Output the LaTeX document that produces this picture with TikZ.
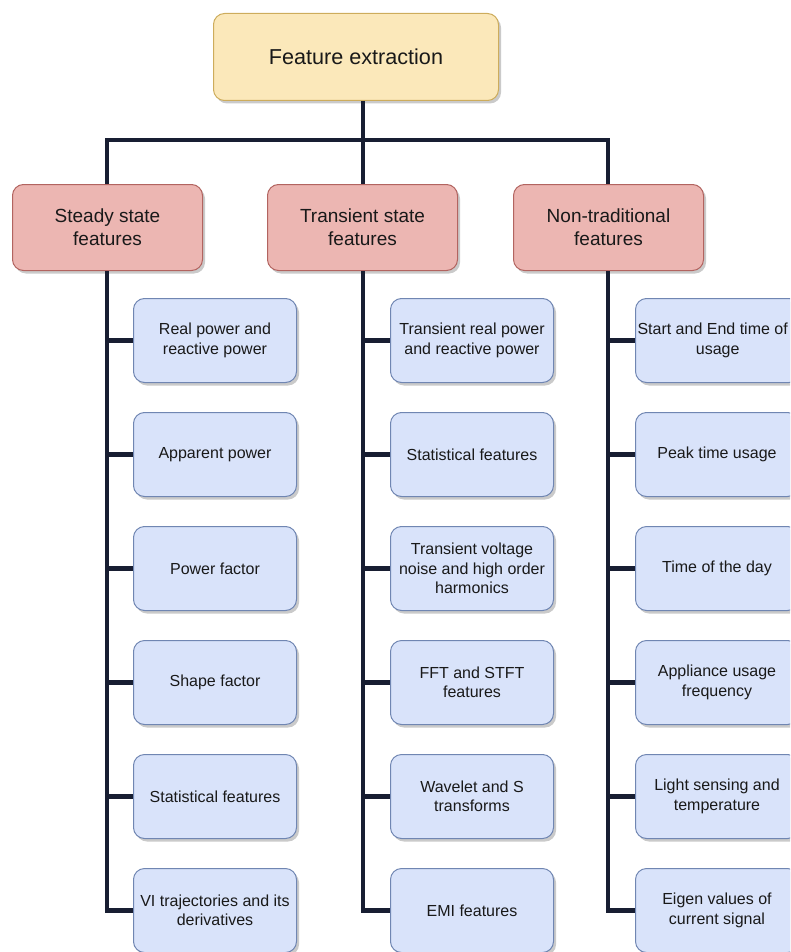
\documentclass[tikz,border=0pt]{standalone}
\usepackage{fontspec}
\setmainfont{Liberation Sans}
\usetikzlibrary{shadows}

\definecolor{rootfill}{RGB}{251,232,186}
\definecolor{rootline}{RGB}{205,172,92}
\definecolor{catfill}{RGB}{236,182,178}
\definecolor{catline}{RGB}{178,100,96}
\definecolor{itemfill}{RGB}{217,227,250}
\definecolor{itemline}{RGB}{112,134,178}
\definecolor{wirecol}{RGB}{24,30,50}
\definecolor{txt}{RGB}{25,25,25}

\tikzset{
  boxbase/.style={draw, line width=1pt, rounded corners=11pt, align=center,
    inner sep=2pt, text=txt, anchor=north west,
    drop shadow={shadow xshift=2.5pt, shadow yshift=-3pt, opacity=0.35, fill=black!60}},
  rootbox/.style={boxbase, fill=rootfill, draw=rootline,
    minimum width=285pt, minimum height=87pt,
    font=\fontsize{21.6}{26}\selectfont},
  catbox/.style={boxbase, fill=catfill, draw=catline,
    minimum width=190pt, minimum height=86pt,
    font=\fontsize{19}{23}\selectfont},
  itembox/.style={boxbase, fill=itemfill, draw=itemline,
    minimum width=163pt, minimum height=84pt,
    font=\fontsize{16}{19.5}\selectfont},
  wire/.style={draw=wirecol, line width=4.5pt}
}

\begin{document}
\begin{tikzpicture}[x=1pt, y=-1pt]
\useasboundingbox (0,0) rectangle (790,952);
\clip (0,0) rectangle (790,952);

% root and the three feature families
\node[rootbox] (root) at (213,13) {Feature extraction};
\node[catbox] (c1) at (12,184) {Steady state\\features};
\node[catbox] (c2) at (267,184) {Transient state\\features};
\node[catbox] (c3) at (513,184) {Non-traditional\\features};

% steady state features
\node[itembox] (s1) at (133,298) {Real power and\\reactive power};
\node[itembox] (s2) at (133,412) {Apparent power};
\node[itembox] (s3) at (133,526) {Power factor};
\node[itembox] (s4) at (133,640) {Shape factor};
\node[itembox] (s5) at (133,754) {Statistical features};
\node[itembox] (s6) at (133,868) {VI trajectories and its\\derivatives};

% transient state features
\node[itembox] (t1) at (390,298) {Transient real power\\and reactive power};
\node[itembox] (t2) at (390,412) {Statistical features};
\node[itembox] (t3) at (390,526) {Transient voltage\\noise and high order\\harmonics};
\node[itembox] (t4) at (390,640) {FFT and STFT\\features};
\node[itembox] (t5) at (390,754) {Wavelet and S\\transforms};
\node[itembox] (t6) at (390,868) {EMI features};

% non-traditional features (the first label is nudged left to stay on the page)
\node[itembox] (n1) at (635,298) {Start and End time of\hspace*{10pt}\\usage};
\node[itembox] (n2) at (635,412) {Peak time usage};
\node[itembox] (n3) at (635,526) {Time of the day};
\node[itembox] (n4) at (635,640) {Appliance usage\\frequency};
\node[itembox] (n5) at (635,754) {Light sensing and\\temperature};
\node[itembox] (n6) at (635,868) {Eigen values of\\current signal};

% tree connectors
\coordinate (bus) at (363,140);
\coordinate (v1) at (107,0);
\coordinate (v2) at (363,0);
\coordinate (v3) at (608,0);

\draw[wire] (root.south -| bus) -- (bus);
\draw[wire] (c1.north -| v1) |- (bus) -| (c3.north -| v3);
\draw[wire] (bus) -- (c2.north -| v2);

\draw[wire] (c1.south -| v1) |- (s6.west);
\foreach \k in {1,...,5} \draw[wire] (s\k.west -| v1) -- (s\k.west);

\draw[wire] (c2.south -| v2) |- (t6.west);
\foreach \k in {1,...,5} \draw[wire] (t\k.west -| v2) -- (t\k.west);

\draw[wire] (c3.south -| v3) |- (n6.west);
\foreach \k in {1,...,5} \draw[wire] (n\k.west -| v3) -- (n\k.west);
\end{tikzpicture}
\end{document}
